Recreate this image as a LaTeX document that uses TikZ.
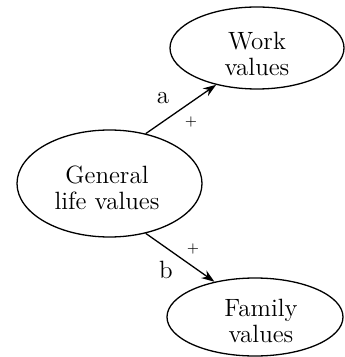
\documentclass[tikz,border=0pt]{standalone}
\usetikzlibrary{shapes.geometric,arrows.meta}
\begin{document}
\begin{tikzpicture}[x=0.5pt,y=-0.5pt,
  ell/.style={draw, ellipse, line width=0.65pt, inner sep=0pt},
  txt/.style={align=center, inner sep=0pt, font=\fontsize{12.5}{13}\selectfont},
  lab/.style={inner sep=0pt, font=\fontsize{12.5}{13}\selectfont},
  sgn/.style={inner sep=0pt, font=\fontsize{7}{8}\selectfont},
  arr/.style={line width=0.65pt, -{Stealth[length=6.5pt,width=4.6pt]}}]
\useasboundingbox (0,0) rectangle (344,357);
\node[ell, minimum width=87pt, minimum height=41pt] (work) at (257,48) {};
\node[txt] (worktxt) at (257,53.5) {Work\\values};
\node[ell, minimum width=92.5pt, minimum height=53.5pt] (gen) at (109.5,183.5) {};
\node[txt] (gentxt) at (107,187.5) {General\\life values};
\node[ell, minimum width=88pt, minimum height=39pt] (fam) at (255,317) {};
\node[txt] (famtxt) at (261,320.5) {Family\\values};
\draw[arr] (gen.54.9) -- (work.222.9);
\draw[arr] (gen.-54.7) -- (fam.139.6);
\node[lab] (la) at (163,98) {a};
\node[sgn] (pa) at (191,122) {+};
\node[sgn] (pb) at (193,249) {+};
\node[lab] (lb) at (166,270) {b};
\end{tikzpicture}
\end{document}
